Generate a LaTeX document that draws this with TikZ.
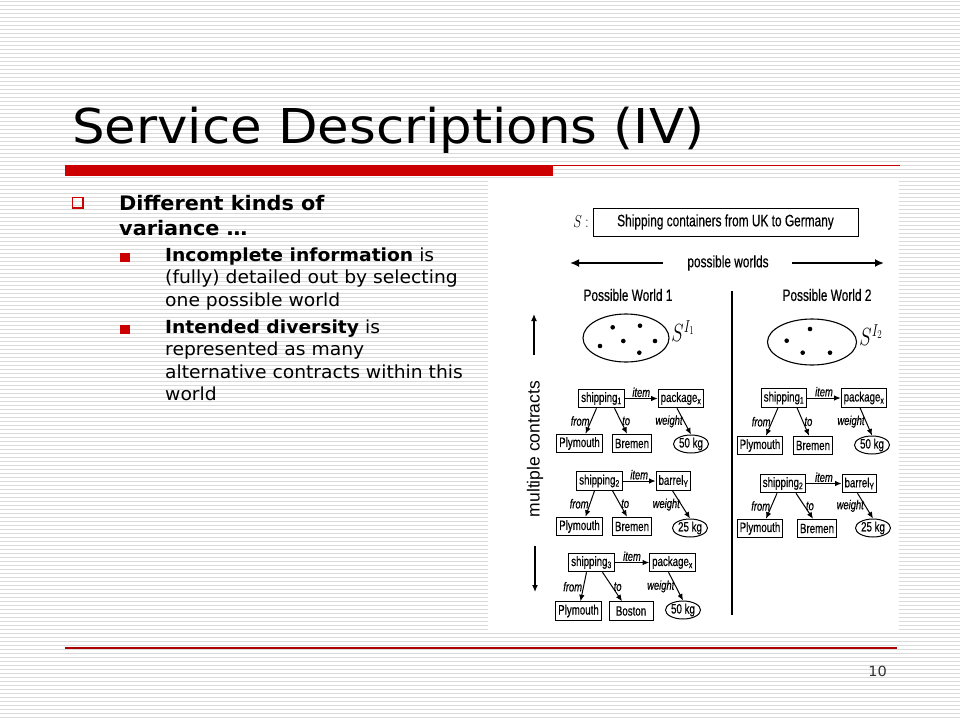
\documentclass[tikz,border=0pt]{standalone}
\usepackage{fontspec}
\setmainfont{DejaVu Sans}
\newfontfamily\titlefont[FakeStretch=1.07]{DejaVu Sans}
\newfontfamily\bodyfont[FakeStretch=1.04]{DejaVu Sans}
\newfontfamily\dfont[FakeStretch=0.72,FakeBold=0.4]{Liberation Sans}
\newfontfamily\mfont{Liberation Sans}
\usetikzlibrary{arrows.meta,shapes.geometric}
\definecolor{slred}{RGB}{204,0,0}
\definecolor{stripecol}{RGB}{218,218,218}
\begin{document}
\begin{tikzpicture}[x=1pt,y=-1pt,
  cbox/.style={draw, line width=1pt, font=\dfont\fontsize{13.5}{13.5}\selectfont, inner xsep=2.5pt, inner ysep=0pt, minimum height=18.5pt},
  wt/.style={draw, ellipse, line width=1pt, font=\dfont\fontsize{13.5}{13.5}\selectfont, inner xsep=0.5pt, inner ysep=0pt, minimum height=18pt},
  rel/.style={-{Latex[length=6.5pt,width=5.5pt]}, line width=1pt},
  lab/.style={font=\dfont\itshape\fontsize{13}{13}\selectfont, inner sep=1pt},
  bigarr/.style={-{Latex[length=9pt,width=8pt]}, line width=2.5pt},
  thinarr/.style={-{Latex[length=7pt,width=6pt]}, line width=1.3pt},
  bodyline/.style={anchor=base west, inner sep=0pt, font=\bodyfont\fontsize{18}{18}\selectfont},
  mainline/.style={anchor=base west, inner sep=0pt, font=\bodyfont\bfseries\fontsize{20}{20}\selectfont},
  dlabel/.style={font=\dfont\fontsize{16.5}{16.5}\selectfont, inner sep=0pt}
]
\path[use as bounding box, fill=white] (0,0) rectangle (960,720);
% striped background
\foreach \k in {0,...,179} \draw[stripecol, line width=1pt] (0,4*\k+1.5) -- (960,4*\k+1.5);
% white picture panel
\fill[white] (488,180) rectangle (899,632);

% title and rules
\node[anchor=base west, inner sep=0pt, font=\titlefont\fontsize{48}{48}\selectfont] (title) at (72,143) {Service Descriptions (IV)};
\fill[slred] (65,164.5) rectangle (553,176);
\draw[slred, line width=1.3pt] (553,165.3) -- (900,165.3);
\draw[slred!85!black, line width=1.4pt] (65,648) -- (897,648);
\node[anchor=base east, inner sep=0pt, font=\bodyfont\fontsize{14}{14}\selectfont, text=black!80] (pnum) at (887,676) {10};

% bullets
\draw[slred, line width=1.8pt] (72.5,197.5) rectangle (83,208);
\fill[slred] (120,252.5) rectangle (130,262);
\fill[slred] (120,324.5) rectangle (130,334);
\node[mainline] (m1) at (119,210) {Different kinds of};
\node[mainline] (m2) at (119,235) {variance …};
\node[bodyline] (a1) at (165,261) {\textbf{Incomplete information} is};
\node[bodyline] (a2) at (165,283.5) {(fully) detailed out by selecting};
\node[bodyline] (a3) at (165,306) {one possible world};
\node[bodyline] (b1) at (165,333) {\textbf{Intended diversity} is};
\node[bodyline] (b2) at (165,355.5) {represented as many};
\node[bodyline] (b3) at (165,378) {alternative contracts within this};
\node[bodyline] (b4) at (165,400.5) {world};

% ---------------- diagram ----------------
\node[inner sep=0pt] (slab) at (581,222) {\fontsize{18}{18}\selectfont\scalebox{0.75}[1]{$S:$}};
\node[draw, line width=1pt, minimum width=265pt, minimum height=28pt, font=\dfont\fontsize{16.5}{16.5}\selectfont] (sbox) at (725.5,222) {Shipping containers from UK to Germany};

\node[dlabel] (pw) at (728,263) {possible worlds};
\coordinate (pwLs) at (663,263);
\coordinate (pwLe) at (570,263);
\coordinate (pwRs) at (792,263);
\coordinate (pwRe) at (884,263);
\draw[bigarr] (pwLs) -- (pwLe);
\draw[bigarr] (pwRs) -- (pwRe);

\node[dlabel] (w1) at (628,295) {Possible World 1};
\node[dlabel] (w2) at (827,295) {Possible World 2};

\coordinate (vt) at (732,291);
\coordinate (vb) at (732,615);
\draw[line width=2.6pt] (vt) -- (vb);

% multiple contracts
\node[rotate=90, inner sep=0pt, font=\mfont\fontsize{17.5}{17.5}\selectfont] (mc) at (535,449) {multiple contracts};
\coordinate (upS) at (534,355);
\coordinate (upE) at (534,314);
\coordinate (dnS) at (535,546);
\coordinate (dnE) at (535,592);
\draw[thinarr] (upS) -- (upE);
\draw[thinarr] (dnS) -- (dnE);

% sets
\node[draw, ellipse, line width=1.1pt, minimum width=86pt, minimum height=48pt] (set1) at (626,338) {};
\foreach \p in {(612.7,327.3),(640,325.7),(623.3,341),(600,346),(655,341),(639.3,352.7)} \fill \p circle (2.3pt);
\node[inner sep=0pt] (si1) at (683,331) {\fontsize{25}{25}\selectfont\scalebox{0.75}[1]{$S^{I_1}$}};
\node[draw, ellipse, line width=1.1pt, minimum width=89pt, minimum height=46pt] (set2) at (812,342) {};
\foreach \p in {(810,329),(786.7,340.7),(802.7,352.7),(830,352.7)} \fill \p circle (2.3pt);
\node[inner sep=0pt] (si2) at (871,335) {\fontsize{25}{25}\selectfont\scalebox{0.75}[1]{$S^{I_2}$}};

% contract 1 (world 1)
\node[cbox] (s1) at (601.5,398.5) {shipping\textsubscript{1}};
\node[cbox] (o1) at (681,398.5) {package\textsubscript{x}};
\node[cbox] (p1) at (579.5,443.5) {Plymouth};
\node[cbox] (d1) at (632,443.5) {Bremen};
\node[wt] (k1) at (691,444) {50 kg};
\draw[rel] (s1) -- node[lab, above] {item} (o1);
\draw[rel] ([xshift=-5pt]s1.south) -- node[lab, left] {from} ([xshift=6pt]p1.north);
\draw[rel] ([xshift=13pt]s1.south) -- node[lab, right] {to} ([xshift=-5pt]d1.north);
\draw[rel] ([xshift=-4pt]o1.south) -- node[lab, left] {weight} (k1.north);

% contract 2 (world 1)
\node[cbox] (s2) at (599.5,481) {shipping\textsubscript{2}};
\node[cbox] (o2) at (673.5,481) {barrel\textsubscript{Y}};
\node[cbox] (p2) at (579.5,526.5) {Plymouth};
\node[cbox] (d2) at (632,526.5) {Bremen};
\node[wt] (k2) at (690,528) {25 kg};
\draw[rel] (s2) -- node[lab, above] {item} (o2);
\draw[rel] ([xshift=-5pt]s2.south) -- node[lab, left] {from} ([xshift=6pt]p2.north);
\draw[rel] ([xshift=13pt]s2.south) -- node[lab, right] {to} ([xshift=-5pt]d2.north);
\draw[rel] ([xshift=-1pt]o2.south) -- node[lab, left] {weight} (k2.north);

% contract 3 (world 1)
\node[cbox] (s3) at (591.5,562.5) {shipping\textsubscript{3}};
\node[cbox] (o3) at (672.5,562.5) {package\textsubscript{x}};
\node[cbox] (p3) at (578.5,611) {Plymouth};
\node[cbox, minimum width=44pt] (d3) at (631,611) {Boston};
\node[wt] (k3) at (683,610) {50 kg};
\draw[rel] (s3) -- node[lab, above] {item} (o3);
\draw[rel] ([xshift=-5pt]s3.south) -- node[lab, left] {from} ([xshift=2pt]p3.north);
\draw[rel] ([xshift=11pt]s3.south) -- node[lab, right] {to} ([xshift=-9pt]d3.north);
\draw[rel] ([xshift=-4pt]o3.south) -- node[lab, left] {weight} (k3.north);

% contract 1 (world 2)
\node[cbox] (s4) at (784,398) {shipping\textsubscript{1}};
\node[cbox] (o4) at (864,398) {package\textsubscript{x}};
\node[cbox] (p4) at (760,445.5) {Plymouth};
\node[cbox] (d4) at (813,445.5) {Bremen};
\node[wt] (k4) at (872,445) {50 kg};
\draw[rel] (s4) -- node[lab, above] {item} (o4);
\draw[rel] ([xshift=-6pt]s4.south) -- node[lab, left] {from} ([xshift=6pt]p4.north);
\draw[rel] ([xshift=13pt]s4.south) -- node[lab, right] {to} ([xshift=-4pt]d4.north);
\draw[rel] ([xshift=-4pt]o4.south) -- node[lab, left] {weight} (k4.north);

% contract 2 (world 2)
\node[cbox] (s5) at (783,483.5) {shipping\textsubscript{2}};
\node[cbox] (o5) at (859.5,483.5) {barrel\textsubscript{Y}};
\node[cbox] (p5) at (760,528.5) {Plymouth};
\node[cbox] (d5) at (817,528.5) {Bremen};
\node[wt] (k5) at (873,528) {25 kg};
\draw[rel] (s5) -- node[lab, above] {item} (o5);
\draw[rel] ([xshift=-6pt]s5.south) -- node[lab, left] {from} ([xshift=6pt]p5.north);
\draw[rel] ([xshift=13pt]s5.south) -- node[lab, right] {to} ([xshift=-4pt]d5.north);
\draw[rel] ([xshift=-2pt]o5.south) -- node[lab, left] {weight} (k5.north);
\end{tikzpicture}
\end{document}
